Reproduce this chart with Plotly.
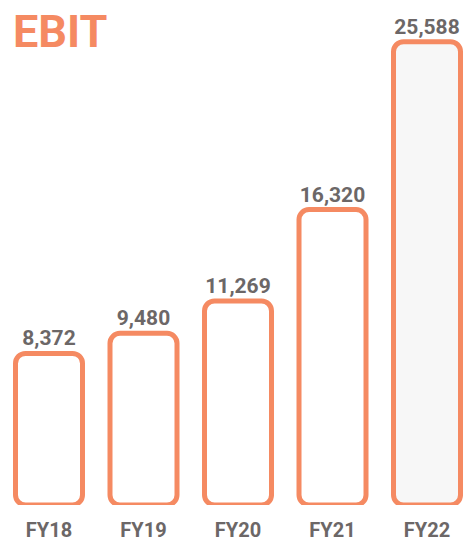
import plotly.graph_objects as go

categories = ["FY18", "FY19", "FY20", "FY21", "FY22"]
ebit = [8372, 9480, 11269, 16320, 25588]
labels = ["8,372", "9,480", "11,269", "16,320", "25,588"]
fills = ["#ffffff", "#ffffff", "#ffffff", "#ffffff", "#f7f7f7"]

ORANGE = "#F58A62"
GREY = "#6c6767"
FONT = "Roboto"

BAR_W = 0.709

fig = go.Figure()
fig.add_trace(go.Bar(
    x=categories, y=ebit, base=[0] * len(ebit), width=BAR_W,
    marker=dict(color=fills, line=dict(color=ORANGE, width=5), cornerradius=10),
    text=labels, textposition="outside", constraintext="none",
    textfont=dict(family=FONT, size=21, color=GREY, weight="bold"),
    cliponaxis=False, showlegend=False,
))

fig.update_layout(
    width=465, height=545,
    margin=dict(l=0, r=0, t=30, b=40, autoexpand=False),
    paper_bgcolor="white", plot_bgcolor="rgba(0,0,0,0)",
    title=dict(text="<b>EBIT</b>", x=0.028, xanchor="left", xref="container",
               y=1 - 31 / 545, yanchor="middle", yref="container",
               font=dict(family=FONT, size=45, color=ORANGE)),
    xaxis=dict(range=[-0.5185, 4.402], showgrid=False, zeroline=False, showline=False,
               automargin=False,
               ticks="", tickfont=dict(family=FONT, size=20, color=GREY, weight="bold"),
               ticklabelstandoff=11),
    yaxis=dict(range=[0, 26234], visible=False, automargin=False),
)

fig.write_html("out.html")
